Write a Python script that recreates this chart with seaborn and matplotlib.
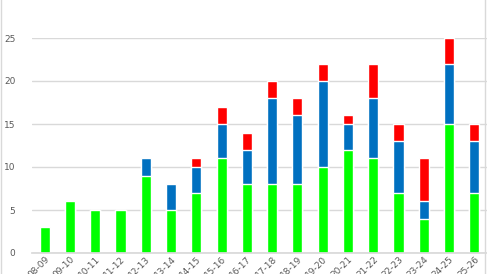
import matplotlib
matplotlib.use("Agg")
import matplotlib.pyplot as plt
import seaborn as sns
import pandas as pd
import numpy as np

seasons = ["08-09", "09-10", "10-11", "11-12", "12-13", "13-14", "14-15", "15-16", "16-17",
           "17-18", "18-19", "19-20", "20-21", "21-22", "22-23", "23-24", "24-25", "25-26"]
green = [3, 6, 5, 5, 9, 5, 7, 11, 8, 8, 8, 10, 12, 11, 7, 4, 15, 7]
blue = [0, 0, 0, 0, 2, 3, 3, 4, 4, 10, 8, 10, 3, 7, 6, 2, 7, 6]
red = [0, 0, 0, 0, 0, 0, 1, 2, 2, 2, 2, 2, 1, 4, 2, 5, 3, 2]

df = pd.DataFrame({"season": seasons, "green": green, "blue": blue, "red": red})
df["gb"] = df["green"] + df["blue"]
df["total"] = df["gb"] + df["red"]

sns.set_theme(style="white")
plt.rcParams["font.family"] = ["DejaVu Sans"]

fig = plt.figure(figsize=(4.87, 2.74), dpi=100)
ax = fig.add_axes([32 / 487, 1 - 253 / 274, 1 - 32 / 487, (253 - 38) / 274])

w = 0.4
sns.barplot(data=df, x="season", y="total", color="#FF0000", width=w, ax=ax, saturation=1)
sns.barplot(data=df, x="season", y="gb", color="#0070C0", width=w, ax=ax, saturation=1)
sns.barplot(data=df, x="season", y="green", color="#00FF00", width=w, ax=ax, saturation=1)

ax.set_ylim(0, 25)
ax.set_xlim(-0.5, len(seasons) - 0.5)
ax.set_yticks([0, 5, 10, 15, 20, 25])
ax.yaxis.grid(True, color="#d9d9d9", linewidth=1)
ax.set_axisbelow(True)
for s in ["top", "right", "left"]:
    ax.spines[s].set_visible(False)
ax.spines["bottom"].set_color("#d9d9d9")
ax.set_xlabel("")
ax.set_ylabel("")
ax.tick_params(axis="both", length=0, labelsize=6.5, colors="#595959")
ax.tick_params(axis="y", pad=12)
plt.setp(ax.get_xticklabels(), rotation=45, ha="right", rotation_mode="anchor")
ax.tick_params(axis="x", pad=1)

fig.patches.append(matplotlib.patches.Rectangle((0.003, -0.01), 0.992, 1.02, transform=fig.transFigure,
                                                fill=False, edgecolor="#d9d9d9", linewidth=1))

fig.savefig("out.png", dpi=100)
